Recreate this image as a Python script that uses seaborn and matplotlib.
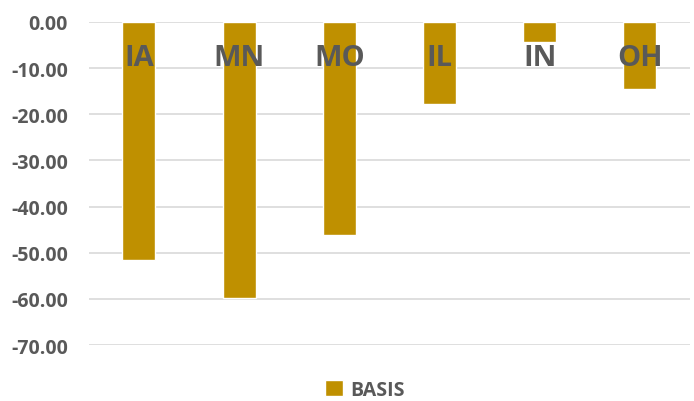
import matplotlib
matplotlib.use("Agg")
import matplotlib.pyplot as plt
import pandas as pd
import seaborn as sns

states = ["IA", "MN", "MO", "IL", "IN", "OH"]
basis = [-51.6, -59.9, -46.2, -17.8, -4.3, -14.6]
series_name = "BASIS"
y_ticks = [0, -10, -20, -30, -40, -50, -60, -70]

sns.set_style("white")
plt.rcParams["font.family"] = ["Open Sans", "DejaVu Sans"]

df = pd.DataFrame({"state": states, "basis": basis, "series": series_name})

fig = plt.figure(figsize=(6.94, 4.02), dpi=100)
ax = fig.add_axes([0.128, 0.139, 0.866, 0.804])

sns.barplot(data=df, x="state", y="basis", hue="series", palette=["#BF9000"],
            saturation=1, width=0.33, ax=ax, zorder=3)

ax.set_ylim(-70, 0)
ax.set_xlim(-0.5, 5.5)
ax.set_yticks(y_ticks)
ax.set_yticklabels(["{:.2f}".format(v) for v in y_ticks])
ax.yaxis.grid(True, color="#D9D9D9", linewidth=1.2, zorder=0)
ax.set_axisbelow(True)
for s in ax.spines.values():
    s.set_visible(False)
ax.tick_params(axis="y", length=0, pad=15, labelsize=14, labelcolor="#595959")
for lab in ax.get_yticklabels():
    lab.set_fontweight("bold")
ax.set_xticks([])
ax.set_xlabel("")
ax.set_ylabel("")

# state labels drawn inside the plot near the top
for i, st in enumerate(states):
    ax.text(i, -7.6, st, ha="center", va="center", fontsize=21,
            fontweight="bold", color="#595959", zorder=4)

sns.move_legend(ax, "lower center", bbox_to_anchor=(0.46, -0.212), frameon=False,
                title=None, handlelength=0.9, handleheight=0.9, handletextpad=0.4,
                borderpad=0.2, prop={"weight": "bold", "size": 14})
for t in ax.get_legend().get_texts():
    t.set_color("#595959")

plt.savefig("out.png", dpi=100)
